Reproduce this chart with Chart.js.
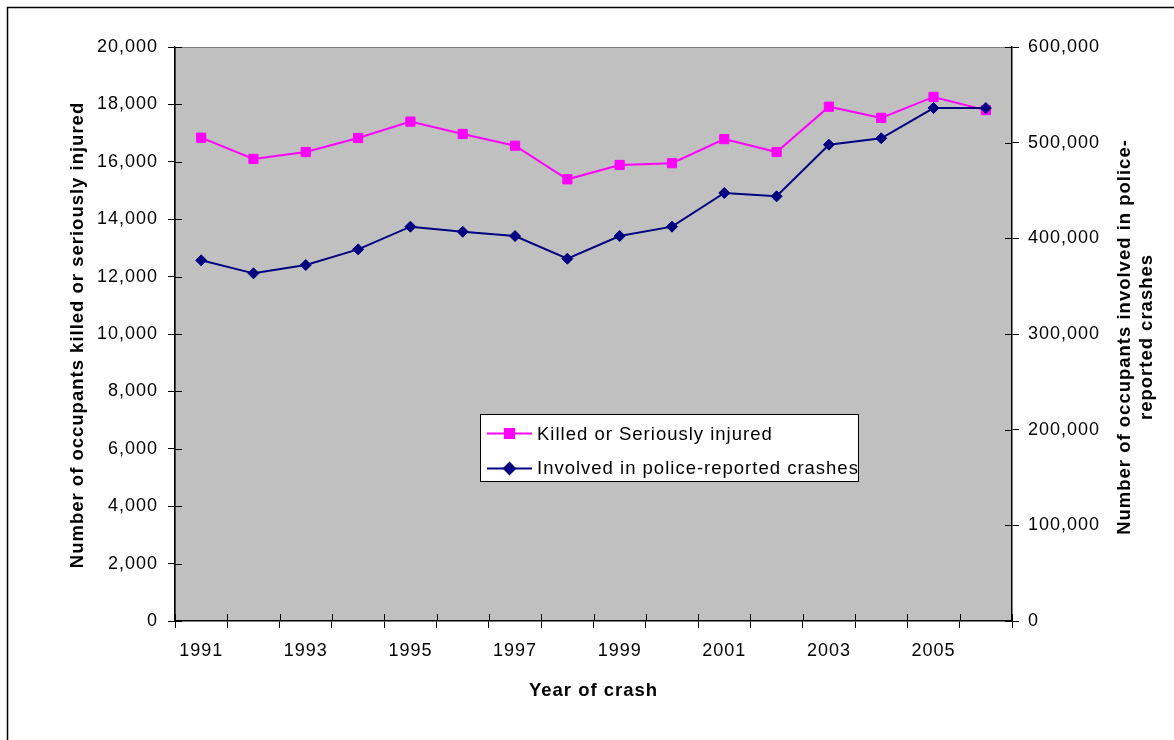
<!DOCTYPE html>
<html>
<head>
<meta charset="utf-8">
<script src="https://cdn.jsdelivr.net/npm/chart.js@4/dist/chart.umd.min.js"></script>
<style>
  html, body { margin: 0; padding: 0; background: #ffffff; }
  #wrap { width: 1174px; height: 740px; position: relative; }
</style>
</head>
<body>
<div id="wrap"><canvas id="c" width="1174" height="740"></canvas></div>
<script>
// Year of crash
const years = ['1991', '1992', '1993', '1994', '1995', '1996', '1997', '1998',
               '1999', '2000', '2001', '2002', '2003', '2004', '2005', '2006'];

// Occupants killed or seriously injured (left axis)
const killedOrSeriouslyInjured = [16840, 16100, 16340, 16830, 17400, 16970, 16560, 15390,
                                  15890, 15950, 16790, 16340, 17920, 17530, 18260, 17800];

// Occupants involved in police-reported crashes (right axis)
const involvedInCrashes = [377000, 363400, 372100, 388500, 412200, 406900, 402400, 378700,
                           402400, 412200, 447400, 443900, 497900, 504600, 536200, 536200];

// Axis ranges and tick steps
const leftAxisRange = [0, 20000, 2000];
const rightAxisRange = [0, 600000, 100000];

const seriesLabels = ['Killed or Seriously injured', 'Involved in police-reported crashes'];
const leftTitle = 'Number of occupants killed or seriously injured';
const rightTitle = ['Number of occupants involved in police-', 'reported crashes'];
const bottomTitle = 'Year of crash';

const FONT = '"Liberation Sans", Arial, Helvetica, sans-serif';
const PINK = '#FF00FF';
const NAVY = '#000080';
const SPACING = '1px';

const fmt = v => Number(v).toLocaleString('en-US');

const chartDecor = {
  id: 'chartDecor',
  beforeUpdate(chart) { chart.ctx.letterSpacing = SPACING; },
  beforeDraw(chart) {
    const ctx = chart.ctx;
    ctx.letterSpacing = SPACING;
    const a = chart.chartArea;
    ctx.save();
    // outer frame
    ctx.strokeStyle = '#000000';
    ctx.lineWidth = 1.5;
    ctx.beginPath();
    ctx.moveTo(7.5, 740);
    ctx.lineTo(7.5, 7.5);
    ctx.lineTo(1174, 7.5);
    ctx.stroke();
    // plot area
    ctx.fillStyle = '#C0C0C0';
    ctx.fillRect(a.left, a.top, a.right - a.left, a.bottom - a.top);
    ctx.strokeStyle = '#808080';
    ctx.lineWidth = 1;
    ctx.strokeRect(a.left + 0.5, a.top + 0.5, a.right - a.left - 1, a.bottom - a.top - 1);
    ctx.restore();
  },
  afterDraw(chart) {
    const ctx = chart.ctx;
    const a = chart.chartArea;
    const sx = chart.scales.x, sy = chart.scales.y, sy1 = chart.scales.y1;
    ctx.save();
    ctx.strokeStyle = '#000000';
    ctx.lineWidth = 1;
    // inner halves of the crossing tick marks
    ctx.beginPath();
    for (let i = 0; i <= years.length; i++) {
      const px = Math.round(sx.getPixelForValue(i - 0.5)) + 0.5;
      ctx.moveTo(px, a.bottom);
      ctx.lineTo(px, a.bottom - 7);
    }
    sy.ticks.forEach(t => {
      const py = Math.round(sy.getPixelForValue(t.value)) + 0.5;
      ctx.moveTo(a.left, py);
      ctx.lineTo(a.left + 7, py);
    });
    sy1.ticks.forEach(t => {
      const py = Math.round(sy1.getPixelForValue(t.value)) + 0.5;
      ctx.moveTo(a.right, py);
      ctx.lineTo(a.right - 7, py);
    });
    ctx.stroke();

    // axis titles
    ctx.fillStyle = '#000000';
    ctx.font = 'bold 18.5px ' + FONT;
    ctx.letterSpacing = SPACING;
    ctx.textBaseline = 'alphabetic';
    ctx.textAlign = 'center';
    ctx.fillText(bottomTitle, (a.left + a.right) / 2, 696);

    ctx.save();
    ctx.translate(83, 335);
    ctx.rotate(-Math.PI / 2);
    ctx.fillText(leftTitle, 0, 0);
    ctx.restore();

    ctx.save();
    ctx.translate(1129.5, 337);
    ctx.rotate(-Math.PI / 2);
    ctx.fillText(rightTitle[0], 0, 0);
    ctx.restore();

    ctx.save();
    ctx.translate(1152, 337);
    ctx.rotate(-Math.PI / 2);
    ctx.fillText(rightTitle[1], 0, 0);
    ctx.restore();
    ctx.restore();
  },
  afterDatasetsDraw(chart) {
    // legend box
    const ctx = chart.ctx;
    ctx.save();
    ctx.letterSpacing = SPACING;
    ctx.fillStyle = '#FFFFFF';
    ctx.fillRect(480, 414, 378, 68);
    ctx.strokeStyle = '#000000';
    ctx.lineWidth = 1;
    ctx.strokeRect(480.5, 414.5, 378, 67);
    const rows = [
      { ds: chart.data.datasets[1], y: 433.5, base: 440 },
      { ds: chart.data.datasets[0], y: 468.5, base: 473.5 }
    ];
    rows.forEach(r => {
      ctx.strokeStyle = r.ds.borderColor;
      ctx.lineWidth = r.ds.borderWidth;
      ctx.beginPath();
      ctx.moveTo(487, r.y);
      ctx.lineTo(532, r.y);
      ctx.stroke();
      Chart.helpers.drawPoint(ctx, {
        pointStyle: r.ds.pointStyle,
        radius: r.ds.pointRadius,
        borderWidth: r.ds.pointBorderWidth,
        rotation: 0
      }, 509.5, r.y);
      ctx.fillStyle = r.ds.pointBackgroundColor;
      ctx.strokeStyle = r.ds.pointBorderColor;
      ctx.lineWidth = r.ds.pointBorderWidth;
      ctx.fill();
      ctx.stroke();
      ctx.fillStyle = '#000000';
      ctx.font = '18.5px ' + FONT;
      ctx.textAlign = 'left';
      ctx.textBaseline = 'alphabetic';
      ctx.fillText(r.ds.label, 537, r.base);
    });
    ctx.restore();
  }
};

new Chart(document.getElementById('c'), {
  type: 'line',
  data: {
    labels: years,
    datasets: [
      {
        label: seriesLabels[1],
        data: involvedInCrashes,
        yAxisID: 'y1',
        borderColor: NAVY,
        backgroundColor: NAVY,
        borderWidth: 2,
        pointStyle: 'rectRot',
        pointRadius: 5.5,
        pointBorderWidth: 1,
        pointBackgroundColor: NAVY,
        pointBorderColor: NAVY,
        tension: 0,
        order: 0
      },
      {
        label: seriesLabels[0],
        data: killedOrSeriouslyInjured,
        yAxisID: 'y',
        borderColor: PINK,
        backgroundColor: PINK,
        borderWidth: 2,
        pointStyle: 'rect',
        pointRadius: 6.5,
        pointBorderWidth: 1,
        pointBackgroundColor: PINK,
        pointBorderColor: PINK,
        tension: 0,
        order: 1
      }
    ]
  },
  options: {
    responsive: false,
    animation: false,
    devicePixelRatio: 1,
    layout: { padding: { top: 47, left: 0, right: 0, bottom: 0 } },
    plugins: {
      legend: { display: false },
      tooltip: { enabled: false }
    },
    scales: {
      x: {
        type: 'category',
        offset: true,
        grid: { display: true, offset: true, drawOnChartArea: false, tickLength: 7, color: '#000000', lineWidth: 1 },
        border: { display: true, color: '#000000', width: 1.5 },
        ticks: {
          autoSkip: false,
          maxRotation: 0,
          padding: 12,
          color: '#000000',
          font: { family: FONT, size: 18 },
          callback: (v, i) => (i % 2 === 0 ? years[i] : '')
        },
        afterFit: s => { s.height = 119; }
      },
      y: {
        position: 'left',
        min: leftAxisRange[0],
        max: leftAxisRange[1],
        grid: { display: true, drawOnChartArea: false, tickLength: 7, color: '#000000', lineWidth: 1 },
        border: { display: true, color: '#000000', width: 1.5 },
        ticks: {
          stepSize: leftAxisRange[2],
          padding: 10,
          color: '#000000',
          font: { family: FONT, size: 18 },
          callback: v => fmt(v)
        },
        afterFit: s => { s.width = 175; }
      },
      y1: {
        position: 'right',
        min: rightAxisRange[0],
        max: rightAxisRange[1],
        grid: { display: true, drawOnChartArea: false, tickLength: 7, color: '#000000', lineWidth: 1 },
        border: { display: true, color: '#000000', width: 1.5 },
        ticks: {
          stepSize: rightAxisRange[2],
          padding: 9,
          color: '#000000',
          font: { family: FONT, size: 18 },
          callback: v => fmt(v)
        },
        afterFit: s => { s.width = 162; }
      }
    }
  },
  plugins: [chartDecor]
});
</script>
</body>
</html>
